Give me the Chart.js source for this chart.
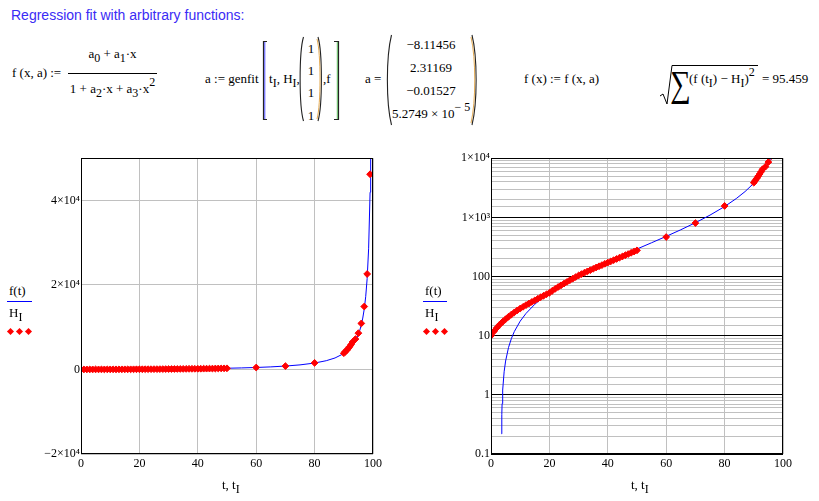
<!DOCTYPE html>
<html><head><meta charset="utf-8">
<script src="https://cdn.jsdelivr.net/npm/chart.js@4.4.1/dist/chart.umd.min.js"></script>
<style>
html,body{margin:0;padding:0;background:#fff;width:819px;height:501px;overflow:hidden;}
body{position:relative;font-family:"Liberation Serif","Times New Roman",serif;font-size:13px;color:#000;}
.a{position:absolute;white-space:nowrap;line-height:13px;}
.sb{position:relative;top:4px;font-size:12px;}
.sp{position:relative;top:-7px;font-size:12px;}
.dm{position:absolute;width:5px;height:5px;background:#ff0000;transform:rotate(45deg);}
canvas{position:absolute;}
svg{position:absolute;left:0;top:0;}
</style></head>
<body>
<svg width="819" height="501" fill="none">
  <path d="M68,73.5 H157" stroke="#000" stroke-width="1"/>
  <path d="M267,41.5 H263.5 V119.5 H267" stroke="#222" stroke-width="1.2"/>
  <path d="M264.8,42 V119" stroke="#4d4dff" stroke-width="1"/>
  <path d="M334,41.5 H338.5 V119.5 H334" stroke="#222" stroke-width="1.2"/>
  <path d="M337.3,42 V119" stroke="#33aa33" stroke-width="0.8"/>
  <path d="M303.5,37 C299,52 299,106 303.5,121" stroke="#222" stroke-width="1.1"/>
  <path d="M318,37 C322.5,52 322.5,106 318,121" stroke="#222" stroke-width="1.1"/>
  <path d="M317,39 C321,53 321,105 317,119" stroke="#e0a040" stroke-width="0.9"/>
  <path d="M391.5,35 C386,57 386,103 391.5,125" stroke="#222" stroke-width="1.1"/>
  <path d="M472,35 C477.5,57 477.5,103 472,125" stroke="#222" stroke-width="1.1"/>
  <path d="M471,37 C476,58 476,102 471,123" stroke="#e0a040" stroke-width="0.9"/>
  <path d="M660,96 L663,94 L667,104 L672,65.5 L758,65.5" stroke="#000" stroke-width="1"/>
</svg>

<div class="a" style="left:11px;top:8px;font-family:'Liberation Sans',Arial,sans-serif;font-size:14px;line-height:14px;color:#3a2bf5;">Regression fit with arbitrary functions:</div>

<div class="a" style="left:12px;top:66px;">f (x, a) :=</div>
<div class="a" style="left:68px;top:47px;width:89px;text-align:center;">a<span class="sb">0</span> + a<span class="sb">1</span>·x</div>
<div class="a" style="left:68px;top:82px;width:89px;text-align:center;">1 + a<span class="sb">2</span>·x + a<span class="sb">3</span>·x<span class="sp">2</span></div>

<div class="a" style="left:205px;top:72px;">a := genfit</div>
<div class="a" style="left:269px;top:72px;">t<span class="sb">I</span>, H<span class="sb">I</span>,</div>
<div class="a" style="left:305px;top:42px;width:12px;text-align:center;">1</div>
<div class="a" style="left:305px;top:64px;width:12px;text-align:center;">1</div>
<div class="a" style="left:305px;top:86px;width:12px;text-align:center;">1</div>
<div class="a" style="left:305px;top:109px;width:12px;text-align:center;">1</div>
<div class="a" style="left:323px;top:72px;">,f</div>

<div class="a" style="left:365px;top:72px;">a =</div>
<div class="a" style="left:392px;top:38px;width:78px;text-align:center;">−8.11456</div>
<div class="a" style="left:392px;top:61px;width:78px;text-align:center;">2.31169</div>
<div class="a" style="left:392px;top:84px;width:78px;text-align:center;">−0.01527</div>
<div class="a" style="left:392px;top:107px;width:78px;text-align:center;">5.2749 × 10<span class="sp">− 5</span></div>

<div class="a" style="left:524px;top:72px;">f (x) := f (x, a)</div>
<div class="a" style="left:670px;top:64px;font-size:37px;line-height:40px;transform:scaleX(0.78);transform-origin:0 0;">∑</div>
<div class="a" style="left:689px;top:72px;">(f (t<span class="sb">I</span>) − H<span class="sb">I</span>)<span class="sp">2</span></div>
<div class="a" style="left:762px;top:72px;">= 95.459</div>

<canvas id="c1" width="355" height="330" style="left:30px;top:150px;width:355px;height:330px;"></canvas>
<canvas id="c2" width="365" height="330" style="left:430px;top:150px;width:365px;height:330px;"></canvas>

<div class="a" style="left:9px;top:284px;">f(t)</div>
<div style="position:absolute;left:7px;top:301px;width:25px;height:1px;background:#0000ff;"></div>
<div class="a" style="left:9px;top:306px;">H<span class="sb">I</span></div>
<div class="dm" style="left:7.5px;top:329px;"></div>
<div class="dm" style="left:16.8px;top:329px;"></div>
<div class="dm" style="left:26.2px;top:329px;"></div>

<div class="a" style="left:425px;top:284px;">f(t)</div>
<div style="position:absolute;left:423px;top:301px;width:24px;height:1px;background:#0000ff;"></div>
<div class="a" style="left:425px;top:306px;">H<span class="sb">I</span></div>
<div class="dm" style="left:423.5px;top:329px;"></div>
<div class="dm" style="left:432.5px;top:329px;"></div>
<div class="dm" style="left:441.8px;top:329px;"></div>

<div class="a" style="left:222px;top:478px;">t, t<span class="sb">I</span></div>
<div class="a" style="left:631px;top:478px;">t, t<span class="sb">I</span></div>

<script>
// ---- data ----
const dataT = [0,1,2,3,4,5,6,7,8,9,10,11,12,13,14,15,16,17,18,19,20,21,22,23,24,25,26,27,28,29,30,31,32,33,34,35,36,37,38,39,40,41,42,43,44,45,46,47,48,49,50,60,70,80,90,90.5,91,91.5,92,92.5,93,94,95,96,97,98,99];
const dataH = [10.0,11.8,13.6,15.4,17.2,19.0,20.9,22.8,24.8,26.8,28.8,30.8,32.9,35.0,37.2,39.5,42.0,44.6,47.3,50.1,53.0,57.5,62.0,66.5,71.0,76.0,81.0,86.5,92.0,98.0,104,110,116,122,128,135,142,149,156,164,172,180,189,198,208,218,229,240,252,264,277,465,800,1560,3850,4200,4550,4950,5400,5900,6500,7200,8600,10900,14900,22600,46200];
const curveT = [0,1,2,3,3.6,3.7,3.8,4,4.5,5,6,7,8,10,12,15,17.5,20,25,30,35,40,45,50,55,60,65,70,75,80,84,87,90,92,93,94,95,95.5,96,96.5,97,97.5,98,98.5,99,99.2];
const curveF = [-8.11,-5.89,-3.60,-1.24,0.219,0.465,0.711,1.205,2.454,3.723,6.323,9.007,11.78,17.60,23.81,33.93,43.18,53.26,76.28,103.9,137.3,178.1,228.5,291.7,372.3,477.1,617.2,810.8,1091,1524,2079,2727,3775,4914,5728,6811,8323,9327,10577,12174,14289,17217,21539,28558,41943,51443];
const xTicks = [0,20,40,60,80,100];
const linYTicks = [-20000,0,20000,40000];
const linYLabels = ['−2×10⁴','0','2×10⁴','4×10⁴'];
const logYTicks = [0.1,1,10,100,1000,10000];
const logYLabels = ['0.1','1','10','100','1×10³','1×10⁴'];

const dataPts = dataT.map((t,i)=>({x:t,y:dataH[i]}));
const curvePts = curveT.map((t,i)=>({x:t,y:curveF[i]}));
const curvePos = curvePts.filter(p=>p.y>0);

const tickFont = {family:"'Liberation Serif','Times New Roman',serif", size:12};
const frame = {id:'frame', afterDatasetsDraw(c){
  const a=c.chartArea, g=c.ctx;
  g.save(); g.strokeStyle='#000'; g.lineWidth=1;
  g.strokeRect(Math.round(a.left)+0.5, Math.round(a.top)+0.5, Math.round(a.right-a.left)-1, Math.round(a.bottom-a.top)-1);
  g.restore();
}};

function datasets(curve){
  return [
    {data:dataPts, showLine:false, pointStyle:'rectRot', pointRadius:3.4, pointBorderWidth:1,
     backgroundColor:'#ff0000', borderColor:'#ff0000', order:0},
    {data:curve, showLine:true, pointRadius:0, borderColor:'#0000ff', borderWidth:1, tension:0, order:1}
  ];
}
function xScale(){
  return {type:'linear', min:0, max:100,
    afterBuildTicks(axis){ axis.ticks = xTicks.map(v=>({value:v})); },
    ticks:{padding:3, color:'#000', font:tickFont, autoSkip:false, maxRotation:0,
      callback:v=>String(v)},
    grid:{color:'#c0c0c0', drawTicks:false}, border:{display:false},
    afterFit(s){s.height=26;}};
}
const isDecade = v => Math.abs(Math.log10(v)-Math.round(Math.log10(v)))<1e-6;

new Chart(document.getElementById('c1'), {
  type:'scatter',
  data:{datasets:datasets(curvePts)},
  options:{responsive:false, animation:false, devicePixelRatio:1,
    layout:{padding:{top:8,right:11,left:0,bottom:0}},
    plugins:{legend:{display:false}, tooltip:{enabled:false}},
    scales:{
      x:xScale(),
      y:{type:'linear', min:-20000, max:50000,
        afterBuildTicks(axis){ axis.ticks = linYTicks.map(v=>({value:v})); },
        ticks:{padding:1, color:'#000', font:tickFont, autoSkip:false,
          callback:(v,i)=>linYLabels[linYTicks.findIndex(t=>Math.abs(t-v)<1)] || ''},
        grid:{color:'#c0c0c0', drawTicks:false}, border:{display:false},
        afterFit(s){s.width=51;}}
    }},
  plugins:[frame]
});

new Chart(document.getElementById('c2'), {
  type:'scatter',
  data:{datasets:datasets(curvePos)},
  options:{responsive:false, animation:false, devicePixelRatio:1,
    layout:{padding:{top:8,right:12,left:0,bottom:0}},
    plugins:{legend:{display:false}, tooltip:{enabled:false}},
    scales:{
      x:xScale(),
      y:{type:'logarithmic', min:0.1, max:10000,
        ticks:{padding:1, color:'#000', font:tickFont, autoSkip:false,
          callback:v=>{const i=logYTicks.findIndex(t=>Math.abs(t-v)<t*1e-6); return i>=0?logYLabels[i]:'';}},
        grid:{drawTicks:false, color:ctx=>(ctx.tick&&isDecade(ctx.tick.value))?'#000000':'#c0c0c0'},
        border:{display:false},
        afterFit(s){s.width=61;}}
    }},
  plugins:[frame]
});
</script>
</body></html>
